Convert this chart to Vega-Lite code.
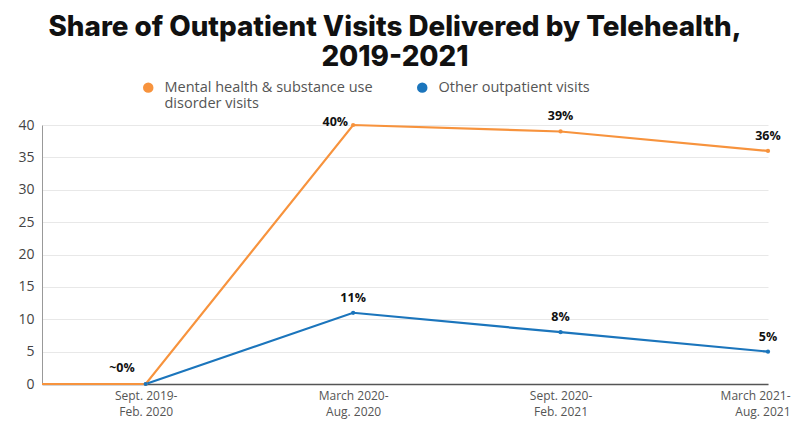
{
  "$schema": "https://vega.github.io/schema/vega-lite/v6.json",
  "width": 726,
  "height": 259,
  "autosize": {"type": "none"},
  "padding": {"left": 42, "top": 125, "right": 23, "bottom": 41},
  "background": "white",
  "title": {
    "text": ["Share of Outpatient Visits Delivered by Telehealth,", "2019-2021"],
    "font": "Inter",
    "fontWeight": 800,
    "fontSize": 27.8,
    "color": "#111111",
    "lineHeight": 30,
    "anchor": "middle",
    "dx": -10,
    "offset": 8
  },
  "data": {
    "values": [
      {"series": "Mental health & substance use disorder visits", "x": -0.5, "value": 0, "label": ""},
      {"series": "Mental health & substance use disorder visits", "x": 0, "value": 0, "label": "~0%"},
      {"series": "Mental health & substance use disorder visits", "x": 1, "value": 40, "label": "40%"},
      {"series": "Mental health & substance use disorder visits", "x": 2, "value": 39, "label": "39%"},
      {"series": "Mental health & substance use disorder visits", "x": 3, "value": 36, "label": "36%"},
      {"series": "Other outpatient visits", "x": 0, "value": 0, "label": ""},
      {"series": "Other outpatient visits", "x": 1, "value": 11, "label": "11%"},
      {"series": "Other outpatient visits", "x": 2, "value": 8, "label": "8%"},
      {"series": "Other outpatient visits", "x": 3, "value": 5, "label": "5%"}
    ]
  },
  "encoding": {
    "x": {
      "field": "x",
      "type": "quantitative",
      "scale": {"domain": [-0.5, 3], "nice": false, "zero": false},
      "axis": {
        "title": null,
        "values": [0, 1, 2, 3],
        "grid": false,
        "ticks": false,
        "domainColor": "#555555",
        "domainWidth": 1.5,
        "labelFont": "Open Sans",
        "labelFontSize": 12,
        "labelColor": "#555555",
        "labelPadding": 6,
        "labelLineHeight": 16,
        "labelFlush": true,
        "labelFlushOffset": 22,
        "labelExpr": "datum.value == 0 ? ['Sept. 2019-', 'Feb. 2020'] : datum.value == 1 ? ['March 2020-', 'Aug. 2020'] : datum.value == 2 ? ['Sept. 2020-', 'Feb. 2021'] : ['March 2021-', 'Aug. 2021']"
      }
    },
    "y": {
      "field": "value",
      "type": "quantitative",
      "scale": {"domain": [0, 40], "nice": false},
      "axis": {
        "title": null,
        "values": [0, 5, 10, 15, 20, 25, 30, 35, 40],
        "ticks": false,
        "domain": true,
        "domainColor": "#999999",
        "gridColor": "#e8e8e8",
        "labelFont": "Open Sans",
        "labelFontSize": 14,
        "labelColor": "#444444",
        "labelPadding": 8
      }
    },
    "color": {
      "field": "series",
      "type": "nominal",
      "scale": {
        "domain": ["Mental health & substance use disorder visits", "Other outpatient visits"],
        "range": ["#F7933D", "#1B75BC"]
      },
      "legend": {
        "title": null,
        "orient": "none",
        "direction": "horizontal",
        "legendX": 99,
        "legendY": -45,
        "symbolType": "circle",
        "symbolSize": 110,
        "symbolStrokeWidth": 0,
        "labelFont": "Open Sans",
        "labelFontSize": 14.5,
        "labelColor": "#555555",
        "labelLimit": 300,
        "labelLineHeight": 18,
        "labelOffset": 9,
        "columnPadding": 42,
        "labelExpr": "datum.value == 'Mental health & substance use disorder visits' ? ['Mental health & substance use', 'disorder visits'] : [datum.value, '']"
      }
    }
  },
  "layer": [
    {
      "mark": {"type": "line", "strokeWidth": 2.2},
      "encoding": {"order": {"field": "x", "type": "quantitative"}}
    },
    {
      "transform": [{"filter": "datum.x >= 0"}],
      "mark": {"type": "point", "filled": true, "size": 18, "opacity": 1}
    },
    {
      "transform": [{"filter": "datum.label != '' && datum.label != '40%' && datum.label != '~0%'"}],
      "mark": {"type": "text", "font": "Open Sans", "fontWeight": "bold", "fontSize": 12.5, "dy": -15, "baseline": "middle"},
      "encoding": {"text": {"field": "label"}, "color": {"value": "#111111"}}
    },
    {
      "transform": [{"filter": "datum.label == '40%'"}],
      "mark": {"type": "text", "font": "Open Sans", "fontWeight": "bold", "fontSize": 12.5, "align": "right", "dx": -5, "dy": -3, "baseline": "middle"},
      "encoding": {"text": {"field": "label"}, "color": {"value": "#111111"}}
    },
    {
      "transform": [{"filter": "datum.label == '~0%'"}],
      "mark": {"type": "text", "font": "Open Sans", "fontWeight": "bold", "fontSize": 12.5, "align": "right", "dx": -11, "dy": -16, "baseline": "middle"},
      "encoding": {"text": {"field": "label"}, "color": {"value": "#111111"}}
    }
  ],
  "config": {"view": {"stroke": null}}
}
